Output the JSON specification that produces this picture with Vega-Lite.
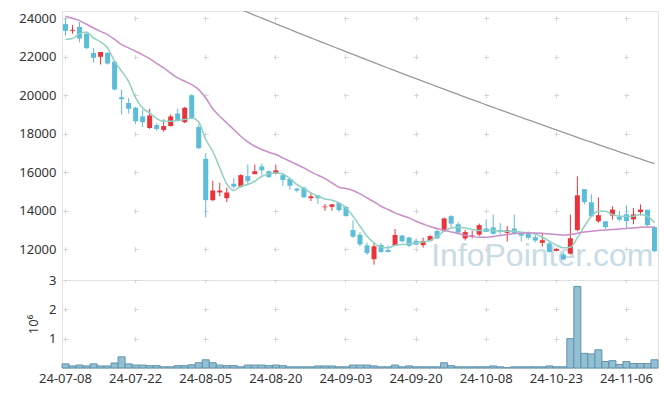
{
  "$schema": "https://vega.github.io/schema/vega-lite/v6.json",
  "background": "white",
  "padding": {"left": 18, "top": 10, "right": 3, "bottom": 3},
  "spacing": 0,
  "bounds": "flush",
  "config": {
    "font": "Noto Sans",
    "view": {"stroke": "#e2e2e2", "strokeWidth": 1},
    "axis": {"labelFont": "Noto Sans", "labelFontSize": 13, "labelColor": "#333333", "ticks": false, "domain": false, "gridColor": "#d6d6d6", "gridWidth": 1, "labelPadding": 6},
    "concat": {"spacing": 0}
  },
  "datasets": {
    "stock": [
      {"d":"24-07-08","o":23700,"h":24000,"l":23100,"c":23350,"v":140000,"m5":22894,"m20":24104},
      {"d":"24-07-09","o":23350,"h":23650,"l":23200,"c":23400,"v":70000,"m5":22946,"m20":24000},
      {"d":"24-07-10","o":23550,"h":23800,"l":22750,"c":22950,"v":100000,"m5":23205,"m20":23880},
      {"d":"24-07-11","o":23200,"h":23300,"l":22400,"c":22450,"v":70000,"m5":23273,"m20":23690},
      {"d":"24-07-12","o":22200,"h":22450,"l":21700,"c":21950,"v":140000,"m5":22980,"m20":23497},
      {"d":"24-07-15","o":22000,"h":22250,"l":21600,"c":22250,"v":70000,"m5":22773,"m20":23320},
      {"d":"24-07-16","o":22200,"h":22250,"l":21600,"c":21650,"v":70000,"m5":22460,"m20":23153},
      {"d":"24-07-17","o":21750,"h":21800,"l":20250,"c":20300,"v":170000,"m5":21767,"m20":22900},
      {"d":"24-07-18","o":19900,"h":20300,"l":19000,"c":19800,"v":380000,"m5":21247,"m20":22634},
      {"d":"24-07-19","o":19600,"h":19850,"l":19050,"c":19300,"v":140000,"m5":20727,"m20":22460},
      {"d":"24-07-22","o":19350,"h":19400,"l":18500,"c":18650,"v":100000,"m5":19860,"m20":22286},
      {"d":"24-07-23","o":18900,"h":19250,"l":18350,"c":18600,"v":100000,"m5":19342,"m20":22100},
      {"d":"24-07-24","o":18300,"h":19300,"l":18250,"c":18950,"v":80000,"m5":19083,"m20":21906},
      {"d":"24-07-25","o":18450,"h":18550,"l":18150,"c":18250,"v":80000,"m5":18790,"m20":21660},
      {"d":"24-07-26","o":18200,"h":18750,"l":18100,"c":18400,"v":40000,"m5":18650,"m20":21419},
      {"d":"24-07-29","o":18400,"h":19000,"l":18380,"c":18900,"v":40000,"m5":18650,"m20":21150},
      {"d":"24-07-30","o":19050,"h":19300,"l":18650,"c":18700,"v":80000,"m5":18686,"m20":20900},
      {"d":"24-07-31","o":18600,"h":19400,"l":18550,"c":19350,"v":80000,"m5":18738,"m20":20727},
      {"d":"24-08-01","o":20000,"h":20050,"l":18750,"c":18800,"v":110000,"m5":18820,"m20":20555},
      {"d":"24-08-02","o":18350,"h":18500,"l":17200,"c":17250,"v":180000,"m5":18613,"m20":20296},
      {"d":"24-08-05","o":16700,"h":17000,"l":13650,"c":14550,"v":280000,"m5":17700,"m20":19860},
      {"d":"24-08-06","o":14550,"h":15550,"l":14500,"c":15050,"v":180000,"m5":17090,"m20":19300},
      {"d":"24-08-07","o":14950,"h":15450,"l":14750,"c":15050,"v":100000,"m5":16225,"m20":18909},
      {"d":"24-08-08","o":14650,"h":15200,"l":14450,"c":14950,"v":80000,"m5":15392,"m20":18562},
      {"d":"24-08-09","o":15400,"h":15700,"l":15150,"c":15250,"v":80000,"m5":15049,"m20":18218,"m120":24605},
      {"d":"24-08-12","o":15250,"h":15900,"l":15200,"c":15850,"v":40000,"m5":15273,"m20":17870,"m120":24455},
      {"d":"24-08-13","o":15800,"h":16400,"l":15350,"c":15550,"v":100000,"m5":15361,"m20":17575,"m120":24306},
      {"d":"24-08-14","o":15900,"h":16400,"l":15900,"c":16050,"v":100000,"m5":15532,"m20":17351,"m120":24157},
      {"d":"24-08-16","o":16300,"h":16450,"l":15850,"c":16100,"v":100000,"m5":15792,"m20":17180,"m120":24009},
      {"d":"24-08-19","o":16050,"h":16100,"l":15700,"c":15750,"v":80000,"m5":15912,"m20":17039,"m120":23861},
      {"d":"24-08-20","o":15950,"h":16400,"l":15900,"c":16100,"v":100000,"m5":15964,"m20":16920,"m120":23713},
      {"d":"24-08-21","o":15850,"h":15950,"l":15300,"c":15600,"v":80000,"m5":15912,"m20":16745,"m120":23566},
      {"d":"24-08-22","o":15650,"h":15700,"l":15100,"c":15300,"v":40000,"m5":15671,"m20":16572,"m120":23420},
      {"d":"24-08-23","o":15150,"h":15200,"l":14950,"c":15050,"v":40000,"m5":15361,"m20":16400,"m120":23274},
      {"d":"24-08-26","o":15200,"h":15250,"l":14650,"c":14700,"v":40000,"m5":15153,"m20":16224,"m120":23128},
      {"d":"24-08-27","o":14650,"h":14950,"l":14500,"c":14750,"v":40000,"m5":14925,"m20":16016,"m120":22983},
      {"d":"24-08-28","o":14800,"h":14800,"l":14350,"c":14650,"v":70000,"m5":14753,"m20":15844,"m120":22839},
      {"d":"24-08-29","o":14180,"h":14350,"l":14000,"c":14220,"v":70000,"m5":14613,"m20":15672,"m120":22694},
      {"d":"24-08-30","o":14200,"h":14350,"l":14000,"c":14330,"v":70000,"m5":14545,"m20":15444,"m120":22551},
      {"d":"24-09-02","o":14400,"h":14450,"l":13950,"c":14030,"v":40000,"m5":14405,"m20":15221,"m120":22407},
      {"d":"24-09-03","o":14200,"h":14250,"l":13700,"c":13720,"v":40000,"m5":14146,"m20":15153,"m120":22265},
      {"d":"24-09-04","o":13000,"h":13500,"l":12600,"c":12650,"v":100000,"m5":13714,"m20":15049,"m120":22122},
      {"d":"24-09-05","o":12750,"h":12900,"l":12150,"c":12250,"v":100000,"m5":13195,"m20":14873,"m120":21981},
      {"d":"24-09-06","o":12200,"h":12350,"l":11700,"c":11800,"v":100000,"m5":12675,"m20":14665,"m120":21839},
      {"d":"24-09-09","o":11480,"h":12350,"l":11200,"c":12150,"v":70000,"m5":12327,"m20":14457,"m120":21698},
      {"d":"24-09-10","o":12220,"h":12330,"l":11800,"c":11860,"v":40000,"m5":12104,"m20":14234,"m120":21558},
      {"d":"24-09-11","o":11960,"h":12200,"l":11820,"c":11860,"v":40000,"m5":12070,"m20":14062,"m120":21418},
      {"d":"24-09-12","o":12200,"h":13050,"l":12200,"c":12740,"v":100000,"m5":12208,"m20":13886,"m120":21278},
      {"d":"24-09-13","o":12710,"h":12750,"l":12350,"c":12410,"v":40000,"m5":12240,"m20":13750,"m120":21139},
      {"d":"24-09-19","o":12610,"h":12650,"l":12100,"c":12180,"v":70000,"m5":12280,"m20":13626,"m120":21000},
      {"d":"24-09-20","o":12440,"h":12560,"l":12200,"c":12240,"v":40000,"m5":12330,"m20":13455,"m120":20862},
      {"d":"24-09-23","o":12210,"h":12600,"l":12080,"c":12430,"v":40000,"m5":12380,"m20":13314,"m120":20725},
      {"d":"24-09-24","o":12440,"h":12730,"l":12400,"c":12680,"v":40000,"m5":12450,"m20":13179,"m120":20588},
      {"d":"24-09-25","o":12950,"h":13100,"l":12550,"c":12560,"v":40000,"m5":12675,"m20":13075,"m120":20451},
      {"d":"24-09-26","o":12930,"h":13650,"l":12930,"c":13600,"v":180000,"m5":12935,"m20":12987,"m120":20315},
      {"d":"24-09-27","o":13720,"h":13770,"l":13120,"c":13330,"v":80000,"m5":13107,"m20":12900,"m120":20179},
      {"d":"24-09-30","o":13300,"h":13420,"l":12830,"c":12870,"v":40000,"m5":13143,"m20":12815,"m120":20044},
      {"d":"24-10-02","o":12560,"h":13000,"l":12460,"c":12890,"v":40000,"m5":13107,"m20":12727,"m120":19909},
      {"d":"24-10-04","o":12710,"h":12970,"l":12560,"c":12740,"v":40000,"m5":13023,"m20":12660,"m120":19775},
      {"d":"24-10-07","o":12760,"h":13330,"l":12680,"c":13250,"v":40000,"m5":12970,"m20":12623,"m120":19641},
      {"d":"24-10-08","o":13080,"h":13550,"l":12900,"c":12900,"v":40000,"m5":12987,"m20":12623,"m120":19507},
      {"d":"24-10-10","o":13140,"h":13800,"l":12760,"c":12800,"v":70000,"m5":12970,"m20":12660,"m120":19374},
      {"d":"24-10-11","o":13000,"h":13350,"l":12760,"c":12900,"v":40000,"m5":12935,"m20":12711,"m120":19242},
      {"d":"24-10-14","o":12850,"h":13200,"l":12400,"c":12990,"v":10000,"m5":12935,"m20":12763,"m120":19110},
      {"d":"24-10-15","o":13080,"h":13800,"l":12760,"c":12850,"v":40000,"m5":12935,"m20":12815,"m120":18978},
      {"d":"24-10-16","o":12800,"h":12900,"l":12400,"c":12700,"v":40000,"m5":12883,"m20":12831,"m120":18847},
      {"d":"24-10-17","o":12880,"h":12920,"l":12500,"c":12590,"v":40000,"m5":12847,"m20":12848,"m120":18716},
      {"d":"24-10-18","o":12620,"h":12800,"l":12350,"c":12450,"v":40000,"m5":12795,"m20":12848,"m120":18586},
      {"d":"24-10-21","o":12330,"h":12800,"l":12130,"c":12470,"v":40000,"m5":12623,"m20":12831,"m120":18457},
      {"d":"24-10-22","o":12300,"h":12400,"l":11820,"c":11860,"v":70000,"m5":12416,"m20":12795,"m120":18327},
      {"d":"24-10-23","o":11910,"h":12050,"l":11900,"c":12020,"v":40000,"m5":12208,"m20":12763,"m120":18199},
      {"d":"24-10-24","o":11730,"h":11830,"l":11430,"c":11470,"v":40000,"m5":12070,"m20":12727,"m120":18070},
      {"d":"24-10-25","o":11770,"h":13800,"l":11720,"c":12570,"v":1000000,"m5":12104,"m20":12763,"m120":17942},
      {"d":"24-10-28","o":13000,"h":15790,"l":12930,"c":14800,"v":2780000,"m5":12587,"m20":12831,"m120":17815},
      {"d":"24-10-29","o":15120,"h":15130,"l":14330,"c":14450,"v":500000,"m5":13195,"m20":12900,"m120":17688},
      {"d":"24-10-30","o":14440,"h":14850,"l":13710,"c":13710,"v":480000,"m5":13714,"m20":12935,"m120":17562},
      {"d":"24-10-31","o":13450,"h":14690,"l":13380,"c":13770,"v":620000,"m5":13974,"m20":12970,"m120":17436},
      {"d":"24-11-01","o":13450,"h":13460,"l":13050,"c":13150,"v":220000,"m5":13974,"m20":13003,"m120":17310},
      {"d":"24-11-04","o":13750,"h":14230,"l":13540,"c":14060,"v":250000,"m5":13800,"m20":13023,"m120":17185},
      {"d":"24-11-05","o":13670,"h":13990,"l":13450,"c":13540,"v":120000,"m5":13714,"m20":13055,"m120":17061},
      {"d":"24-11-06","o":13820,"h":14270,"l":13100,"c":13460,"v":220000,"m5":13714,"m20":13075,"m120":16937},
      {"d":"24-11-07","o":13550,"h":14140,"l":13300,"c":13810,"v":150000,"m5":13714,"m20":13107,"m120":16813},
      {"d":"24-11-08","o":13930,"h":14330,"l":13750,"c":14060,"v":150000,"m5":13800,"m20":13143,"m120":16690},
      {"d":"24-11-11","o":14050,"h":14060,"l":13200,"c":13250,"v":150000,"m5":13714,"m20":13160,"m120":16567},
      {"d":"24-11-12","o":13150,"h":13200,"l":11850,"c":11900,"v":280000,"m5":13368,"m20":13143,"m120":16445}
    ]
  },
  "vconcat": [
    {
      "width": 596,
      "height": 269,
      "layer": [
        {
          "data": {"values": [{"t": "InfoPointer.com"}]},
          "mark": {"type": "text", "font": "Liberation Sans", "fontSize": 32, "color": "#c9dbe6", "align": "center", "baseline": "middle"},
          "encoding": {
            "x": {"datum": "24-10-21", "type": "ordinal"},
            "y": {"datum": 11650, "type": "quantitative"},
            "text": {"field": "t"}
          }
        },
        {
          "data": {"name": "stock"},
          "mark": {"type": "rule", "strokeWidth": 1},
          "encoding": {
            "x": {"field": "d", "type": "ordinal", "title": null,
                  "scale": {"type": "band", "paddingInner": 0, "paddingOuter": 0},
                  "axis": {"orient": "bottom", "labels": false, "tickSize": 0, "labelPadding": 0, "minExtent": 0, "maxExtent": 0, "grid": true, "values": ["24-07-08","24-07-22","24-08-05","24-08-20","24-09-03","24-09-20","24-10-08","24-10-23","24-11-06"], "gridDash": [5, 33.48], "gridDashOffset": 33.67}},
            "y": {"field": "l", "type": "quantitative", "title": null,
                  "scale": {"domain": [10400, 24380], "nice": false, "zero": false},
                  "axis": {"values": [12000, 14000, 16000, 18000, 20000, 22000, 24000], "format": "d", "grid": true, "gridDash": [5, 65.118], "gridDashOffset": 69.11}},
            "y2": {"field": "h"},
            "color": {"condition": {"test": "datum.c >= datum.o", "value": "#e8353b"}, "value": "#5cbdd8"}
          }
        },
        {
          "data": {"name": "stock"},
          "mark": {"type": "bar", "size": 5},
          "encoding": {
            "x": {"field": "d", "type": "ordinal", "title": null},
            "y": {"field": "o", "type": "quantitative", "title": null},
            "y2": {"field": "c"},
            "color": {"condition": {"test": "datum.c >= datum.o", "value": "#e8353b"}, "value": "#5cbdd8"}
          }
        },
        {
          "data": {"name": "stock"},
          "mark": {"type": "line", "strokeWidth": 1.5, "color": "#8fd1c3", "interpolate": "monotone"},
          "encoding": {
            "x": {"field": "d", "type": "ordinal", "title": null},
            "y": {"field": "m5", "type": "quantitative", "title": null}
          }
        },
        {
          "data": {"name": "stock"},
          "mark": {"type": "line", "strokeWidth": 1.5, "color": "#c98ec8", "interpolate": "monotone"},
          "encoding": {
            "x": {"field": "d", "type": "ordinal", "title": null},
            "y": {"field": "m20", "type": "quantitative", "title": null}
          }
        },
        {
          "data": {"name": "stock"},
          "mark": {"type": "line", "strokeWidth": 1.3, "color": "#9a9a9a", "interpolate": "monotone", "clip": true},
          "encoding": {
            "x": {"field": "d", "type": "ordinal", "title": null},
            "y": {"field": "m120", "type": "quantitative", "title": null}
          }
        }
      ]
    },
    {
      "width": 596,
      "height": 88,
      "data": {"name": "stock"},
      "mark": {"type": "bar", "color": "#93bfd3", "stroke": "#5f93ad", "strokeWidth": 1},
      "encoding": {
        "x": {"field": "d", "type": "ordinal", "title": null,
              "scale": {"type": "band", "paddingInner": 0, "paddingOuter": 0},
              "axis": {"orient": "bottom", "labelAngle": 0, "labelPadding": 4, "values": ["24-07-08","24-07-22","24-08-05","24-08-20","24-09-03","24-09-20","24-10-08","24-10-23","24-11-06"], "grid": true, "gridDash": [5, 24.33], "gridDashOffset": 2.5}},
        "y": {"field": "v", "type": "quantitative",
              "scale": {"domain": [0, 3000000], "nice": false},
              "axis": {"title": "10⁶", "titleFont": "Noto Sans", "titleFontSize": 13, "titleFontWeight": "normal", "titleColor": "#333333", "titlePadding": 8, "values": [1000000, 2000000, 3000000], "labelExpr": "format(datum.value / 1000000, 'd')", "grid": true, "gridDash": [5, 65.118], "gridDashOffset": 69.11}}
      }
    }
  ]
}
